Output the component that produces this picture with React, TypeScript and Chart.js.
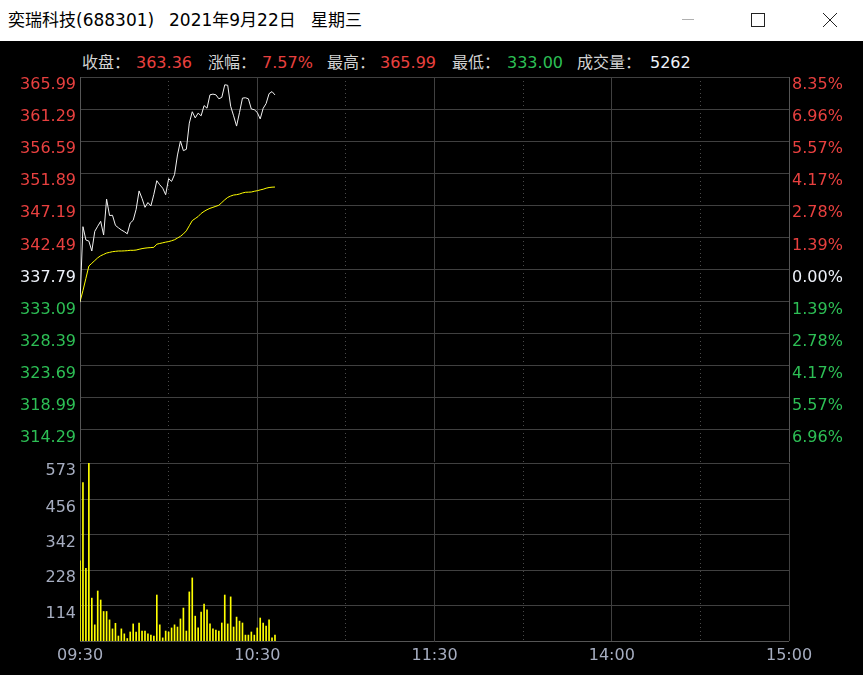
import React, { useEffect, useRef } from 'react';
import { Chart, registerables } from 'chart.js';

Chart.register(...registerables);

// ---------- data ----------
const prevClose = 337.79;
const priceMin = 309.59;
const priceMax = 365.99;
const priceTicks = [314.29, 318.99, 323.69, 328.39, 333.09, 337.79, 342.49, 347.19, 351.89, 356.59, 361.29, 365.99];
const volumeMax = 573;
const volumeTicks = [114, 228, 342, 456, 573];
const totalMinutes = 240;
const timeTicks = [0, 60, 120, 180, 240];
const timeLabels = ['09:30', '10:30', '11:30', '14:00', '15:00'];
const halfHourTicks = [30, 90, 150, 210];

const price = [
  333.0, 344.06, 342.11, 341.95, 340.5, 343.38, 344.13, 344.85, 342.84, 348.1,
  345.7, 345.73, 344.25, 343.9, 343.58, 343.33, 343.02, 344.6, 345.0, 346.6,
  349.3, 348.2, 346.9, 347.6, 347.1, 348.8, 350.8, 350.2, 349.7, 348.75,
  351.1, 350.7, 351.7, 354.57, 356.6, 355.2, 355.4, 359.23, 360.9, 360.0,
  360.7, 360.3, 361.8, 361.42, 363.38, 363.48, 363.38, 362.8, 363.0, 364.85,
  364.78, 361.7, 360.3, 358.8, 360.8, 362.9, 362.95, 362.8, 361.3, 361.2,
  360.8, 359.85, 361.4, 362.1, 363.55, 363.85, 363.36,
];

const avgPrice = [
  333.07, 334.7, 336.5, 338.3, 338.7, 339.1, 339.5, 339.8, 340.0, 340.2,
  340.3, 340.4, 340.45, 340.5, 340.5, 340.52, 340.55, 340.6, 340.6, 340.64,
  340.75, 340.85, 340.92, 340.97, 341.0, 341.04, 341.5, 341.6, 341.7, 341.8,
  341.88, 342.0, 342.15, 342.4, 342.65, 343.0, 343.45, 344.2, 344.95, 345.25,
  345.55, 346.0, 346.3, 346.55, 346.75, 346.9, 347.05, 347.2, 347.6, 348.0,
  348.35, 348.55, 348.7, 348.75, 348.85, 349.0, 349.1, 349.12, 349.14, 349.25,
  349.33, 349.45, 349.55, 349.7, 349.8, 349.85, 349.87,
];

const volume = [
  258, 510, 234, 573, 138, 52, 161, 132, 95, 95,
  68, 39, 57, 16, 39, 23, 8, 29, 55, 29,
  58, 32, 32, 23, 19, 16, 148, 52, 10, 32,
  29, 42, 52, 45, 71, 106, 32, 158, 203, 80,
  42, 93, 119, 100, 55, 39, 35, 32, 58, 148,
  55, 142, 45, 77, 64, 58, 19, 19, 29, 19,
  42, 74, 58, 48, 68, 10, 19,
];

// ---------- style ----------
const FONT = "'DejaVu Sans', 'Noto Sans CJK SC', sans-serif";
const RED = '#e8403f';
const GREEN = '#2dbf55';
const WHITE = '#eef2fa';
const AXIS_GREY = '#a6adc0';
const GRID = '#404040';
const BORDER = '#555555';
const DOT = '#4a4a4a';

function upDownColor(v: number) {
  if (Math.abs(v - prevClose) < 0.005) return WHITE;
  return v > prevClose ? RED : GREEN;
}

function fixWidth(w: number) {
  return (s: any) => {
    s.width = w;
    s.paddingTop = 0;
    s.paddingBottom = 0;
  };
}

function xAxes(showLabels: boolean) {
  const fixH = (h: number) => (s: any) => {
    s.height = h;
    s.paddingLeft = 0;
    s.paddingRight = 0;
  };
  return {
    x: {
      type: 'linear' as const,
      position: 'bottom' as const,
      min: 0,
      max: totalMinutes,
      offset: false,
      afterBuildTicks: (s: any) => {
        s.ticks = timeTicks.map((v) => ({ value: v }));
      },
      afterFit: fixH(showLabels ? 34 : 0),
      grid: { color: GRID, lineWidth: 1, drawTicks: false, offset: false },
      border: { display: false },
      ticks: {
        display: showLabels,
        autoSkip: false,
        maxRotation: 0,
        padding: 5,
        color: AXIS_GREY,
        font: { family: FONT, size: 16 },
        callback: (v: any) => {
          const i = timeTicks.indexOf(Number(v));
          return i >= 0 ? timeLabels[i] : '';
        },
      },
    },
    xHalf: {
      type: 'linear' as const,
      position: 'bottom' as const,
      min: 0,
      max: totalMinutes,
      offset: false,
      afterBuildTicks: (s: any) => {
        s.ticks = halfHourTicks.map((v) => ({ value: v }));
      },
      afterFit: fixH(0),
      grid: { color: DOT, lineWidth: 1, drawTicks: false, offset: false },
      border: { display: false, dash: [1, 3] },
      ticks: { display: false },
    },
  };
}

function PriceChart() {
  const ref = useRef<HTMLCanvasElement>(null);
  useEffect(() => {
    if (!ref.current) return;
    const chart = new Chart(ref.current, {
      type: 'line',
      data: {
        datasets: [
          {
            label: '价格',
            data: price.map((v, i) => ({ x: i, y: v })),
            borderColor: '#f2f2f2',
            borderWidth: 1,
            pointRadius: 0,
            tension: 0,
            xAxisID: 'x',
            yAxisID: 'y',
          },
          {
            label: '均价',
            data: avgPrice.map((v, i) => ({ x: i, y: v })),
            borderColor: '#ffff00',
            borderWidth: 1,
            pointRadius: 0,
            tension: 0,
            xAxisID: 'x',
            yAxisID: 'y',
          },
        ],
      },
      options: {
        animation: false,
        responsive: false,
        devicePixelRatio: 1,
        events: [],
        layout: { padding: { top: 36, left: 0, right: 0, bottom: 0 } },
        plugins: { legend: { display: false }, tooltip: { enabled: false } },
        scales: {
          ...xAxes(false),
          y: {
            type: 'linear',
            position: 'left',
            min: priceMin,
            max: priceMax,
            afterBuildTicks: (s: any) => {
              s.ticks = priceTicks.map((v) => ({ value: v }));
            },
            afterFit: fixWidth(80),
            grid: { color: GRID, lineWidth: 1, drawTicks: false },
            border: { display: true, color: BORDER },
            ticks: {
              autoSkip: false,
              padding: 4,
              labelOffset: 8,
              font: { family: FONT, size: 16 },
              color: (c: any) => upDownColor(c.tick.value),
              callback: (v: any) => Number(v).toFixed(2),
            },
          },
          yPct: {
            type: 'linear',
            position: 'right',
            min: priceMin,
            max: priceMax,
            afterBuildTicks: (s: any) => {
              s.ticks = priceTicks.map((v) => ({ value: v }));
            },
            afterFit: fixWidth(74),
            grid: { drawOnChartArea: false, drawTicks: false },
            border: { display: true, color: BORDER },
            ticks: {
              autoSkip: false,
              padding: 3,
              labelOffset: 8,
              font: { family: FONT, size: 16 },
              color: (c: any) => upDownColor(c.tick.value),
              callback: (v: any) =>
                Math.abs(((Number(v) - prevClose) / prevClose) * 100).toFixed(2) + '%',
            },
          },
        },
      } as any,
    });
    return () => chart.destroy();
  }, []);
  return (
    <canvas
      ref={ref}
      width={863}
      height={421}
      style={{ position: 'absolute', left: 0, top: 41, width: 863, height: 421 }}
    />
  );
}

function VolumeChart() {
  const ref = useRef<HTMLCanvasElement>(null);
  useEffect(() => {
    if (!ref.current) return;
    const chart = new Chart(ref.current, {
      type: 'bar',
      data: {
        datasets: [
          {
            label: '成交量',
            data: volume.map((v, i) => ({ x: i, y: v })),
            backgroundColor: '#ffff00',
            borderWidth: 0,
            barThickness: 1,
            xAxisID: 'x',
            yAxisID: 'y',
          },
        ],
      },
      options: {
        animation: false,
        responsive: false,
        devicePixelRatio: 1,
        events: [],
        layout: { padding: { top: 8, left: 0, right: 74, bottom: 0 } },
        plugins: { legend: { display: false }, tooltip: { enabled: false } },
        scales: {
          ...xAxes(true),
          y: {
            type: 'linear',
            position: 'left',
            min: 0,
            max: volumeMax,
            afterBuildTicks: (s: any) => {
              s.ticks = volumeTicks.map((v) => ({ value: v }));
            },
            afterFit: fixWidth(80),
            grid: { color: GRID, lineWidth: 1, drawTicks: false },
            border: { display: true, color: BORDER },
            ticks: {
              autoSkip: false,
              padding: 4,
              labelOffset: 8,
              font: { family: FONT, size: 16 },
              color: AXIS_GREY,
              callback: (v: any) => String(v),
            },
          },
        },
      } as any,
      plugins: [
        {
          id: 'bottomLine',
          afterDraw(c: any) {
            const { ctx, chartArea } = c;
            ctx.save();
            ctx.strokeStyle = BORDER;
            ctx.lineWidth = 1;
            ctx.beginPath();
            ctx.moveTo(chartArea.left, Math.round(chartArea.bottom) + 0.5);
            ctx.lineTo(chartArea.right, Math.round(chartArea.bottom) + 0.5);
            ctx.stroke();
            ctx.restore();
          },
        },
      ],
    });
    return () => chart.destroy();
  }, []);
  return (
    <canvas
      ref={ref}
      width={863}
      height={220}
      style={{ position: 'absolute', left: 0, top: 455, width: 863, height: 220 }}
    />
  );
}

const txt = (extra: React.CSSProperties): React.CSSProperties => ({
  position: 'absolute',
  whiteSpace: 'pre',
  fontFamily: FONT,
  fontSize: 16,
  lineHeight: '20px',
  ...extra,
});

export default function App() {
  const LABEL = '#d2d2d2';
  return (
    <div
      style={{
        position: 'fixed',
        left: 0,
        top: 0,
        width: 863,
        height: 675,
        background: '#000',
        overflow: 'hidden',
      }}
    >
      {/* window title bar */}
      <div style={{ position: 'absolute', left: 0, top: 0, width: 863, height: 41, background: '#fff' }}>
        <span style={txt({ left: 8, top: 10, fontSize: 17, color: '#000' })}>奕瑞科技(688301)</span>
        <span style={txt({ left: 169, top: 10, fontSize: 17, color: '#000' })}>2021年9月22日</span>
        <span style={txt({ left: 311, top: 10, fontSize: 17, color: '#000' })}>星期三</span>
        <svg width={863} height={41} style={{ position: 'absolute', left: 0, top: 0 }}>
          <line x1={682} y1={19.5} x2={694} y2={19.5} stroke="#b0b0b0" strokeWidth={1} />
          <rect x={751.5} y={13.5} width={13} height={13} fill="none" stroke="#222" strokeWidth={1} />
          <line x1={823} y1={13} x2={837} y2={27} stroke="#222" strokeWidth={1} />
          <line x1={837} y1={13} x2={823} y2={27} stroke="#222" strokeWidth={1} />
        </svg>
      </div>

      {/* header quote line */}
      <span style={txt({ left: 82, top: 53, color: LABEL })}>收盘：</span>
      <span style={txt({ left: 136, top: 53, color: RED })}>363.36</span>
      <span style={txt({ left: 208, top: 53, color: LABEL })}>涨幅：</span>
      <span style={txt({ left: 262, top: 53, color: RED })}>7.57%</span>
      <span style={txt({ left: 327, top: 53, color: LABEL })}>最高：</span>
      <span style={txt({ left: 380, top: 53, color: RED })}>365.99</span>
      <span style={txt({ left: 452, top: 53, color: LABEL })}>最低：</span>
      <span style={txt({ left: 507, top: 53, color: GREEN })}>333.00</span>
      <span style={txt({ left: 577, top: 53, color: LABEL })}>成交量：</span>
      <span style={txt({ left: 650, top: 53, color: WHITE })}>5262</span>

      <PriceChart />
      <VolumeChart />
    </div>
  );
}
